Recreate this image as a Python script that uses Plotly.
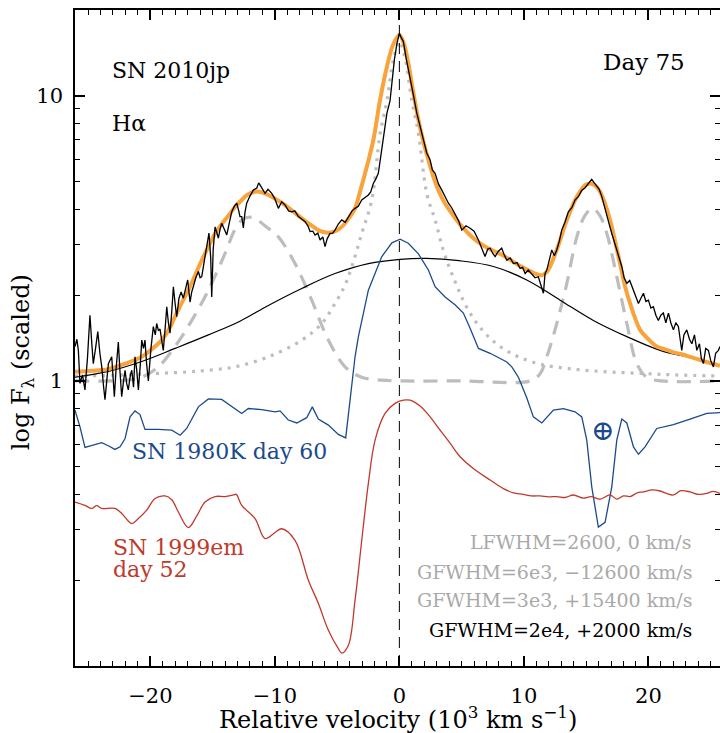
import plotly.graph_objects as go

# ---------------- data (velocity in 10^3 km/s, scaled flux) ----------------
spec_v = [-26.05,-25.90,-25.78,-25.65,-25.45,-25.25,-25.05,-24.85,-24.70,-24.58,-24.40,-24.22,-24.05,-23.90,-23.75,-23.64,-23.50,-23.37,-23.10,-22.98,-22.89,-22.75,-22.57,-22.45,-22.30,-22.15,-22.03,-21.90,-21.77,-21.60,-21.49,-21.35,-21.23,-21.10,-20.96,-20.80,-20.69,-20.55,-20.43,-20.30,-20.16,-19.95,-19.76,-19.60,-19.49,-19.35,-19.22,-19.10,-18.96,-18.80,-18.68,-18.55,-18.42,-18.28,-18.15,-18.00,-17.88,-17.70,-17.53,-17.35,-17.21,-17.00,-16.81,-16.68,-16.55,-16.35,-16.14,-16.00,-15.87,-15.75,-15.61,-15.45,-15.29,-15.15,-15.07,-14.95,-14.80,-14.65,-14.54,-14.40,-14.27,-14.05,-13.86,-13.65,-13.46,-13.25,-13.06,-12.90,-12.80,-12.66,-12.53,-12.40,-12.26,-12.00,-11.73,-11.45,-11.30,-11.19,-11.00,-10.79,-10.55,-10.25,-10.00,-9.85,-9.72,-9.45,-9.18,-8.90,-8.64,-8.40,-8.11,-7.85,-7.57,-7.35,-7.17,-6.95,-6.77,-6.55,-6.37,-6.15,-5.97,-5.80,-5.57,-5.35,-5.17,-4.90,-4.63,-4.35,-4.10,-3.80,-3.56,-3.30,-3.02,-2.75,-2.49,-2.30,-2.09,-1.90,-1.69,-1.55,-1.41,-1.20,-1.00,-0.75,-0.55,-0.40,-0.20,0.00,0.15,0.32,0.55,0.86,1.10,1.40,1.65,1.93,2.20,2.47,2.65,2.87,3.15,3.41,3.65,3.94,4.20,4.47,4.75,5.01,5.35,5.68,6.00,6.35,6.60,6.88,7.10,7.29,7.50,7.69,7.95,8.22,8.45,8.63,8.90,9.16,9.45,9.70,9.90,10.10,10.35,10.63,10.90,11.16,11.30,11.44,11.57,11.70,11.84,11.97,12.24,12.45,12.64,12.85,13.04,13.30,13.57,13.85,14.11,14.40,14.65,14.90,15.18,15.45,15.65,15.86,16.05,16.26,16.45,16.66,16.85,17.06,17.25,17.46,17.65,17.86,18.05,18.27,18.50,18.80,19.00,19.20,19.40,19.60,19.80,20.00,20.20,20.40,20.60,20.80,21.00,21.20,21.40,21.61,21.80,22.01,22.20,22.41,22.55,22.68,22.85,23.08,23.30,23.49,23.70,23.89,24.10,24.25,24.42,24.60,24.82,25.00,25.22,25.40,25.62,25.75]
spec_f = [1.32,1.40,1.28,0.98,1.05,0.93,1.20,1.70,1.35,1.15,1.30,1.49,1.25,1.12,0.95,0.86,1.00,1.15,1.215,1.05,0.88,1.10,1.37,1.10,0.88,1.00,1.09,0.98,0.93,1.05,1.09,0.95,1.215,1.10,0.93,1.15,1.39,1.30,1.39,1.15,1.00,1.30,1.55,1.45,1.59,1.50,1.52,1.40,1.28,1.55,1.82,1.60,1.47,1.75,2.14,1.85,1.68,1.95,2.05,1.95,2.08,2.26,1.89,2.05,2.14,2.30,2.42,2.30,2.32,2.55,2.73,3.00,3.30,2.70,1.97,2.90,3.47,3.30,3.17,3.40,3.57,3.40,3.25,3.60,3.92,4.10,4.20,3.95,3.77,3.77,3.44,3.90,4.20,4.45,4.67,4.75,4.95,4.87,4.70,4.55,4.70,4.55,4.35,4.15,4.03,4.25,4.14,3.95,3.92,3.95,3.77,3.70,3.62,3.50,3.34,3.35,3.25,3.30,3.12,3.20,2.96,3.15,3.29,3.30,3.38,3.55,3.67,3.60,3.77,3.95,4.03,4.10,4.31,4.40,4.49,4.60,4.93,5.10,5.35,5.90,6.46,7.60,8.70,9.60,11.60,13.40,15.20,16.60,16.00,15.50,13.50,11.68,10.20,8.69,7.80,7.00,6.30,5.96,5.50,5.35,4.90,4.67,4.45,4.20,4.05,3.87,3.65,3.38,3.50,3.43,3.35,3.12,2.95,2.73,2.90,2.92,2.80,2.73,2.85,2.92,2.75,2.65,2.70,2.58,2.60,2.48,2.50,2.38,2.45,2.38,2.30,2.32,2.20,2.11,2.03,2.38,2.45,2.58,2.88,2.75,2.88,3.10,3.38,3.60,3.92,4.05,4.31,4.45,4.67,4.75,4.93,5.09,4.95,4.80,4.70,4.43,4.15,3.87,3.55,3.29,3.10,2.88,2.70,2.52,2.30,2.20,2.25,2.08,1.95,1.87,1.95,2.03,1.90,1.92,1.80,1.82,1.70,1.63,1.70,1.73,1.60,1.73,1.60,1.51,1.60,1.55,1.40,1.28,1.45,1.51,1.40,1.35,1.45,1.28,1.35,1.20,1.15,1.30,1.28,1.18,1.12,1.25,1.28,1.32]

fit_v = [-26.05,-24.70,-23.37,-22.00,-20.69,-19.90,-19.08,-18.50,-18.02,-17.50,-16.95,-16.40,-15.87,-15.30,-14.80,-14.25,-13.73,-13.25,-12.80,-12.20,-11.59,-11.00,-10.52,-9.85,-9.18,-8.50,-7.84,-7.15,-6.51,-6.10,-5.70,-5.10,-4.63,-4.10,-3.56,-3.16,-2.62,-2.09,-1.55,-1.01,-0.48,0.00,0.35,0.72,1.10,1.53,1.93,2.33,2.73,3.13,3.65,4.21,4.85,5.54,6.20,6.88,7.55,8.22,8.90,9.56,10.23,10.90,11.44,11.80,12.10,12.50,12.91,13.30,13.71,14.10,14.51,14.90,15.32,15.72,16.12,16.52,16.92,17.32,17.72,18.12,18.53,18.93,19.33,20.00,20.67,21.34,22.01,22.68,23.35,24.02,24.69,25.75]
fit_f = [1.076,1.085,1.10,1.15,1.215,1.29,1.39,1.52,1.68,1.87,2.08,2.35,2.65,2.98,3.29,3.56,3.80,4.05,4.25,4.50,4.61,4.58,4.49,4.32,4.14,3.92,3.72,3.53,3.38,3.33,3.31,3.36,3.47,3.70,4.03,4.61,5.63,7.00,9.67,12.6,15.2,16.3,15.3,13.0,10.4,8.23,6.90,5.96,5.20,4.67,4.20,3.87,3.55,3.29,3.10,2.96,2.86,2.77,2.66,2.55,2.46,2.38,2.35,2.40,2.52,2.78,3.12,3.52,3.92,4.30,4.61,4.85,4.93,4.85,4.61,4.18,3.67,3.10,2.58,2.15,1.87,1.66,1.51,1.40,1.32,1.29,1.26,1.24,1.215,1.19,1.165,1.13]

broad_v = [-26.05,-23.37,-20.69,-18.02,-15.34,-12.80,-10.52,-7.84,-5.17,-2.49,0.06,2.20,4.80,7.55,10.23,12.91,15.58,18.27,20.94,23.61,25.75]
broad_f = [1.03,1.08,1.17,1.30,1.45,1.62,1.84,2.11,2.38,2.58,2.67,2.69,2.64,2.52,2.26,1.92,1.63,1.43,1.28,1.20,1.13]

lor_v = [-26.05,-22.00,-19.36,-17.00,-15.34,-13.20,-10.52,-7.84,-6.23,-5.17,-4.40,-3.82,-3.02,-2.22,-1.55,-1.00,-0.48,0.00,0.48,1.00,1.53,2.22,2.87,3.50,4.21,5.54,6.88,8.20,9.56,11.50,13.98,16.66,19.33,22.01,25.75]
lor_f = [1.04,1.05,1.063,1.075,1.09,1.12,1.215,1.39,1.59,1.87,2.15,2.52,3.29,4.31,7.35,9.6,13.37,15.5,13.4,9.6,7.38,4.5,3.67,2.90,2.38,1.77,1.47,1.31,1.215,1.14,1.10,1.076,1.063,1.05,1.04]

gau_v = [-26.05,-22.00,-20.69,-19.36,-18.02,-16.67,-15.34,-14.00,-13.20,-12.60,-12.10,-11.59,-10.80,-9.72,-8.38,-7.04,-5.70,-4.36,-3.02,-1.41,0.00,5.00,10.50,11.30,11.84,12.64,13.45,14.25,14.90,15.50,16.10,16.66,17.46,18.27,19.07,19.87,21.00,25.75]
gau_f = [1.00,1.005,1.03,1.12,1.32,1.63,2.08,2.80,3.40,3.68,3.75,3.72,3.50,3.20,2.58,1.92,1.39,1.12,1.03,1.006,1.0,1.0,1.00,1.06,1.215,1.59,2.20,3.20,3.80,4.03,3.80,3.29,2.32,1.59,1.15,1.03,1.00,1.00]

k80_v = [-26.05,-25.85,-25.65,-25.25,-24.60,-23.90,-23.30,-22.84,-22.43,-22.03,-21.63,-21.23,-20.83,-20.43,-19.36,-18.28,-17.61,-17.08,-16.14,-15.34,-14.27,-13.20,-12.66,-12.13,-11.05,-9.98,-9.58,-8.92,-8.24,-7.44,-6.99,-6.51,-5.70,-4.90,-4.31,-3.96,-3.56,-3.29,-2.49,-1.41,-0.60,0.06,0.72,1.53,2.33,2.87,3.67,4.47,5.14,5.68,6.35,7.29,8.09,8.63,9.03,9.56,10.23,10.76,11.44,12.37,13.17,14.11,14.65,15.05,15.45,15.98,16.52,17.06,17.46,17.86,18.27,18.80,19.20,19.73,20.67,22.01,23.35,24.69,25.75]
k80_f = [0.790,0.74,0.690,0.584,0.595,0.607,0.590,0.575,0.587,0.628,0.748,0.785,0.762,0.676,0.676,0.672,0.645,0.681,0.811,0.865,0.861,0.796,0.769,0.800,0.793,0.779,0.785,0.729,0.712,0.743,0.811,0.735,0.700,0.649,0.631,0.856,1.215,1.43,2.08,2.73,3.05,3.14,3.04,2.79,2.45,2.14,1.97,1.85,1.73,1.53,1.30,1.25,1.20,1.165,1.12,1.03,0.873,0.748,0.712,0.790,0.800,0.779,0.748,0.620,0.425,0.307,0.319,0.425,0.620,0.735,0.712,0.587,0.553,0.587,0.681,0.702,0.735,0.769,0.774]

em99_v = [-26.05,-25.25,-24.71,-24.31,-23.90,-22.84,-22.30,-21.50,-20.96,-20.29,-19.62,-18.82,-18.28,-17.75,-16.95,-16.27,-15.61,-14.80,-14.00,-13.33,-13.10,-12.66,-11.59,-10.79,-9.98,-9.45,-8.38,-7.31,-6.51,-5.70,-4.90,-4.63,-4.10,-3.56,-3.02,-2.49,-1.95,-1.15,-0.35,0.32,0.86,1.66,2.47,3.27,4.07,4.88,5.94,7.29,8.35,9.16,9.96,10.60,11.30,12.00,12.64,13.30,13.98,14.78,15.40,16.12,16.92,17.46,18.00,18.53,19.10,19.60,20.30,20.94,21.50,22.01,22.60,23.35,24.00,24.69,25.20,25.75]
em99_f = [0.376,0.366,0.357,0.365,0.357,0.357,0.343,0.316,0.329,0.352,0.387,0.395,0.383,0.347,0.306,0.336,0.376,0.393,0.393,0.398,0.400,0.366,0.329,0.280,0.294,0.303,0.276,0.200,0.166,0.1334,0.115,0.111,0.118,0.170,0.276,0.437,0.620,0.769,0.834,0.856,0.856,0.816,0.748,0.672,0.605,0.542,0.493,0.449,0.419,0.405,0.400,0.395,0.395,0.392,0.393,0.390,0.398,0.388,0.393,0.385,0.398,0.385,0.395,0.393,0.405,0.408,0.415,0.411,0.402,0.398,0.412,0.408,0.400,0.403,0.410,0.403]

x_tickvals = [-20, -10, 0, 10, 20]
y_tickvals = [1, 10]
y_ticktext = ["1", "10"]
y_minor = [0.2, 0.3, 0.4, 0.5, 0.6, 0.7, 0.8, 0.9, 2, 3, 4, 5, 6, 7, 8, 9]

legend_lines = ["LFWHM=2600, 0 km/s", "GFWHM=6e3, \u221212600 km/s",
                "GFWHM=3e3, +15400 km/s", "GFWHM=2e4, +2000 km/s"]

# ---------------- figure ----------------
FONT = "DejaVu Serif"
GRAY = "#BDBDBD"
BLUE = "#1B4A8C"
RED = "#C0392B"
ORANGE = "#F9A33C"

fig = go.Figure()
fig.add_trace(go.Scatter(x=gau_v, y=gau_f, mode="lines", line=dict(color=GRAY, width=3.2, dash="14px,9px", shape="spline"), hoverinfo="skip"))
fig.add_trace(go.Scatter(x=lor_v, y=lor_f, mode="lines", line=dict(color=GRAY, width=3.2, dash="3px,6px", shape="spline"), hoverinfo="skip"))
fig.add_trace(go.Scatter(x=broad_v, y=broad_f, mode="lines", line=dict(color="black", width=1.2, shape="spline"), hoverinfo="skip"))
fig.add_trace(go.Scatter(x=k80_v, y=k80_f, mode="lines", line=dict(color=BLUE, width=1.3), hoverinfo="skip"))
fig.add_trace(go.Scatter(x=em99_v, y=em99_f, mode="lines", line=dict(color=RED, width=1.3, shape="spline"), hoverinfo="skip"))
fig.add_trace(go.Scatter(x=fit_v, y=fit_f, mode="lines", line=dict(color=ORANGE, width=4, shape="spline"), hoverinfo="skip"))
fig.add_trace(go.Scatter(x=spec_v, y=spec_f, mode="lines", line=dict(color="black", width=1.3), hoverinfo="skip"))

fig.add_vline(x=0, line=dict(color="black", width=1, dash="11px,7px"))

def px_x(px):
    return (px - 75) / 645.0

def px_y(py):
    return (665.7 - py) / 655.7

annos = [
    dict(text="SN 2010jp", x=px_x(110), y=px_y(70), xanchor="left", font=dict(size=22, color="black")),
    dict(text="H\u03b1", x=px_x(110), y=px_y(123), xanchor="left", font=dict(size=22, color="black")),
    dict(text="Day 75", x=px_x(687), y=px_y(62), xanchor="right", font=dict(size=23, color="black")),
    dict(text="SN 1980K day 60", x=px_x(130), y=px_y(451), xanchor="left", font=dict(size=22, color=BLUE)),
    dict(text="SN 1999em", x=px_x(111), y=px_y(547), xanchor="left", font=dict(size=22, color=RED)),
    dict(text="day 52", x=px_x(111), y=px_y(569), xanchor="left", font=dict(size=22, color=RED)),
    dict(text="\u2295", x=px_x(602), y=px_y(430), xanchor="center", font=dict(size=28, color=BLUE)),
    # axis titles
    dict(text="Relative velocity (10<sup>3</sup> km s<sup>\u22121</sup>)", x=px_x(398), y=px_y(718),
         xanchor="center", font=dict(size=24, color="black")),
    dict(text="log F<sub>\u03bb</sub> (scaled)", x=px_x(22), y=px_y(362), xanchor="center",
         textangle=-90, font=dict(size=24, color="black")),
]
leg_y = [542, 571.5, 600, 630]
leg_c = ["#A9A9A9", "#A9A9A9", "#A9A9A9", "black"]
for t, yy, cc in zip(legend_lines, leg_y, leg_c):
    annos.append(dict(text=t, x=px_x(694), y=px_y(yy), xanchor="right", font=dict(size=19, color=cc)))
for a in annos:
    a.update(xref="paper", yref="paper", yanchor="middle", showarrow=False)

fig.update_layout(
    width=720, height=733,
    margin=dict(l=75, r=0, t=10, b=67, autoexpand=False),
    plot_bgcolor="white", paper_bgcolor="white",
    showlegend=False,
    font=dict(family=FONT, color="black"),
    annotations=annos,
)
fig.update_xaxes(
    range=[-26.05, 25.75], showgrid=False, zeroline=False, automargin=False,
    showline=True, linecolor="black", linewidth=1.5, mirror="ticks",
    ticks="inside", ticklen=10, tickwidth=1.5, tickcolor="black",
    tickmode="array", tickvals=x_tickvals,
    minor=dict(ticks="inside", ticklen=5, tickwidth=1.2, tickcolor="black", dtick=1, tick0=0, showgrid=False),
    tickfont=dict(size=21, family=FONT), ticklabelstandoff=10,
)
fig.update_yaxes(
    type="log", range=[-1, 1.30103], showgrid=False, zeroline=False, automargin=False,
    showline=True, linecolor="black", linewidth=1.5, mirror="ticks",
    ticks="inside", ticklen=10, tickwidth=1.5, tickcolor="black",
    tickmode="array", tickvals=y_tickvals, ticktext=y_ticktext,
    minor=dict(ticks="inside", ticklen=5, tickwidth=1.2, tickcolor="black", tickmode="array", tickvals=y_minor, showgrid=False),
    tickfont=dict(size=21, family=FONT), ticklabelstandoff=6,
)

fig.write_html(
    "out.html",
    config={"displayModeBar": False},
    post_script="document.body.style.margin='0px'; document.documentElement.style.overflow='hidden'; document.body.style.overflow='hidden';",
)
